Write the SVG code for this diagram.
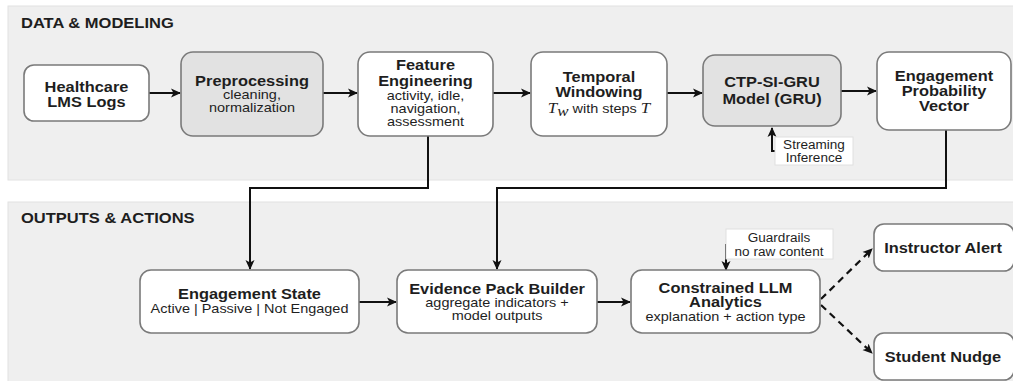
<svg xmlns="http://www.w3.org/2000/svg" width="1013" height="381" viewBox="0 0 1013 381">
<defs>
<style>
.panel{fill:#efefef;stroke:#e2e2e2;stroke-width:1}
.sec{font-family:"Liberation Sans",Arial,sans-serif;font-weight:bold;font-size:14px;fill:#1e1e1e}
.box{fill:#ffffff;stroke:#7a7a7a;stroke-width:1.6}
.gbox{fill:#e2e2e2;stroke:#7a7a7a;stroke-width:1.6}
.note{fill:#ffffff;stroke:#e0e0e0;stroke-width:1}
.t{font-family:"Liberation Sans",Arial,sans-serif;font-weight:bold;font-size:14.5px;fill:#1e1e1e;text-anchor:middle}
.s{font-family:"Liberation Sans",Arial,sans-serif;font-size:12.8px;fill:#1e1e1e;text-anchor:middle}
.n{font-family:"Liberation Sans",Arial,sans-serif;font-size:12px;fill:#1e1e1e;text-anchor:middle}
.m{font-family:"Liberation Serif","Times New Roman",serif;font-style:italic;font-size:15px}
.c{fill:none;stroke:#111;stroke-width:2}
.d{fill:none;stroke:#111;stroke-width:2.2;stroke-dasharray:7 5}
</style>
<marker id="ah" viewBox="0 0 10 10" refX="9" refY="5" markerWidth="10" markerHeight="10" markerUnits="userSpaceOnUse" orient="auto">
<path d="M0,0.5 L10,5 L0,9.5 L2.5,5 z" fill="#111"/>
</marker>
</defs>
<rect x="0" y="0" width="1013" height="381" fill="#ffffff"/>
<rect class="panel" x="8" y="6" width="1010" height="174"/>
<rect class="panel" x="8" y="202" width="1010" height="182"/>
<text class="sec" transform="translate(21 28) scale(1.18 1)">DATA &amp; MODELING</text>
<text class="sec" transform="translate(21 223) scale(1.18 1)">OUTPUTS &amp; ACTIONS</text>

<g id="connectors">
<path class="c" d="M149 93 H180" marker-end="url(#ah)"/>
<path class="c" d="M323 93 H357" marker-end="url(#ah)"/>
<path class="c" d="M493 93 H530" marker-end="url(#ah)"/>
<path class="c" d="M667 93 H702" marker-end="url(#ah)"/>
<path class="c" d="M841 91 H876" marker-end="url(#ah)"/>
<path class="c" d="M776 151 H772 V128" marker-end="url(#ah)"/>
<path class="c" d="M428 136 V188 H250 V269" marker-end="url(#ah)"/>
<path class="c" d="M946 130 V188 H497 V269" marker-end="url(#ah)"/>
<path class="c" d="M359 302 H396" marker-end="url(#ah)"/>
<path class="c" d="M597 302 H630" marker-end="url(#ah)"/>
<path class="c" d="M726 244 V270" marker-end="url(#ah)"/>
<path class="d" d="M821 299 L872 249" marker-end="url(#ah)"/>
<path class="d" d="M821 305 L872 353" marker-end="url(#ah)"/>
</g>

<g id="n-logs">
<rect class="box" x="24" y="65" width="125" height="56" rx="10"/>
<text class="t" transform="translate(86.5 92) scale(1.13 1)">Healthcare</text>
<text class="t" transform="translate(86.5 107) scale(1.13 1)">LMS Logs</text>
</g>
<g id="n-pre">
<rect class="gbox" x="181" y="52" width="142" height="84" rx="12"/>
<text class="t" transform="translate(252 86) scale(1.13 1)">Preprocessing</text>
<text class="s" transform="translate(252 99) scale(1.13 1)">cleaning,</text>
<text class="s" transform="translate(252 112) scale(1.13 1)">normalization</text>
</g>
<g id="n-feat">
<rect class="box" x="358" y="52" width="135" height="84" rx="12"/>
<text class="t" transform="translate(425.5 70) scale(1.13 1)">Feature</text>
<text class="t" transform="translate(425.5 86) scale(1.13 1)">Engineering</text>
<text class="s" transform="translate(425.5 100) scale(1.13 1)">activity, idle,</text>
<text class="s" transform="translate(425.5 113) scale(1.13 1)">navigation,</text>
<text class="s" transform="translate(425.5 126) scale(1.13 1)">assessment</text>
</g>
<g id="n-win">
<rect class="box" x="531" y="52" width="136" height="84" rx="12"/>
<text class="t" transform="translate(599 82) scale(1.13 1)">Temporal</text>
<text class="t" transform="translate(599 97) scale(1.13 1)">Windowing</text>
<text class="s" transform="translate(599 113) scale(1.13 1)"><tspan class="m">T</tspan><tspan class="m" font-size="12" dy="3">w</tspan><tspan dy="-3"> with steps </tspan><tspan class="m">T</tspan></text>
</g>
<g id="n-gru">
<rect class="gbox" x="703" y="55" width="138" height="71" rx="12"/>
<text class="t" transform="translate(772 87) scale(1.13 1)">CTP-SI-GRU</text>
<text class="t" transform="translate(772 104) scale(1.13 1)">Model (GRU)</text>
</g>
<g id="n-epv">
<rect class="box" x="877" y="52" width="134" height="78" rx="12"/>
<text class="t" transform="translate(944 81) scale(1.13 1)">Engagement</text>
<text class="t" transform="translate(944 96) scale(1.13 1)">Probability</text>
<text class="t" transform="translate(944 111) scale(1.13 1)">Vector</text>
</g>
<g id="n-stream">
<rect class="note" x="775" y="137" width="78" height="28"/>
<text class="n" transform="translate(814 149) scale(1.13 1)">Streaming</text>
<text class="n" transform="translate(814 162) scale(1.13 1)">Inference</text>
</g>

<g id="n-state">
<rect class="box" x="140" y="270" width="219" height="63" rx="11"/>
<text class="t" transform="translate(249.5 299) scale(1.13 1)">Engagement State</text>
<text class="s" transform="translate(249.5 313) scale(1.13 1)">Active | Passive | Not Engaged</text>
</g>
<g id="n-evid">
<rect class="box" x="397" y="270" width="200" height="63" rx="11"/>
<text class="t" transform="translate(497 294) scale(1.13 1)">Evidence Pack Builder</text>
<text class="s" transform="translate(497 307) scale(1.13 1)">aggregate indicators +</text>
<text class="s" transform="translate(497 320) scale(1.13 1)">model outputs</text>
</g>
<g id="n-llm">
<rect class="box" x="631" y="270" width="189" height="63" rx="11"/>
<text class="t" transform="translate(725.5 293) scale(1.13 1)">Constrained LLM</text>
<text class="t" transform="translate(725.5 307) scale(1.13 1)">Analytics</text>
<text class="s" transform="translate(725.5 321) scale(1.13 1)">explanation + action type</text>
</g>
<g id="n-guard">
<rect class="note" x="726" y="229" width="107" height="30"/>
<text class="n" transform="translate(779 242) scale(1.13 1)">Guardrails</text>
<text class="n" transform="translate(779 256) scale(1.13 1)">no raw content</text>
</g>
<g id="n-alert">
<rect class="box" x="874" y="224" width="140" height="47" rx="10"/>
<text class="t" transform="translate(943 253) scale(1.13 1)">Instructor Alert</text>
</g>
<g id="n-nudge">
<rect class="box" x="874" y="333" width="140" height="47" rx="10"/>
<text class="t" transform="translate(943 362) scale(1.13 1)">Student Nudge</text>
</g>
</svg>
